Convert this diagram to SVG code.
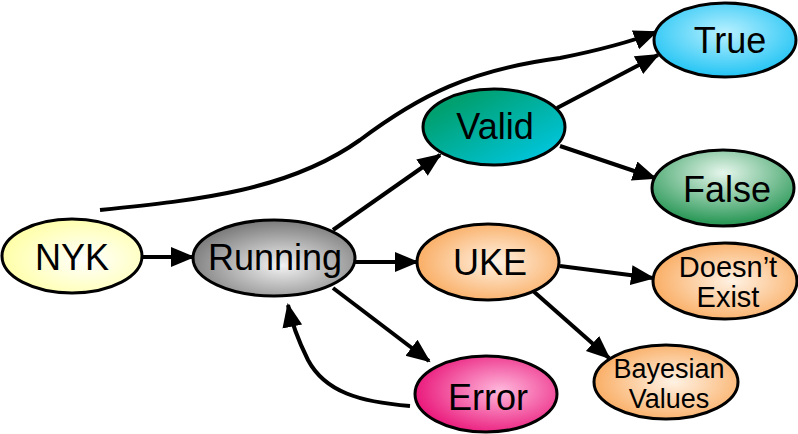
<svg xmlns="http://www.w3.org/2000/svg" width="798" height="434" viewBox="0 0 798 434">
<style>
.n{stroke:#000;stroke-width:3}
.t{font-family:"Liberation Sans",Arial,sans-serif;font-size:36px;fill:#000;text-anchor:middle}
.s{font-size:29px}
.b{font-size:27px}
.c{fill:none;stroke:#000;stroke-width:4;marker-end:url(#ah)}
</style>
<defs>
<marker id="ah" markerUnits="userSpaceOnUse" markerWidth="26" markerHeight="22" refX="22" refY="10" orient="auto"><path d="M0,0 L24,10 L0,20 Z" fill="#000"/></marker>
<radialGradient id="gY" cx="0.6" cy="0.55" r="0.6"><stop offset="0" stop-color="#ffffff"/><stop offset="1" stop-color="#ffffa8"/></radialGradient>
<radialGradient id="gG" cx="0.55" cy="0.6" r="0.6"><stop offset="0" stop-color="#f2f2f2"/><stop offset="1" stop-color="#7a7a7a"/></radialGradient>
<linearGradient id="gV" x1="0" y1="0" x2="1" y2="1"><stop offset="0.2" stop-color="#00a070"/><stop offset="1" stop-color="#00ccf0"/></linearGradient>
<radialGradient id="gT" cx="0.5" cy="0.4" r="0.6"><stop offset="0" stop-color="#b8f0ff"/><stop offset="1" stop-color="#22c4f4"/></radialGradient>
<radialGradient id="gF" cx="0.5" cy="0.3" r="0.65"><stop offset="0" stop-color="#e6f6ec"/><stop offset="1" stop-color="#2e9a5a"/></radialGradient>
<radialGradient id="gO" cx="0.55" cy="0.5" r="0.6"><stop offset="0" stop-color="#fff2e4"/><stop offset="1" stop-color="#f9a85a"/></radialGradient>
<radialGradient id="gE" cx="0.6" cy="0.45" r="0.6"><stop offset="0" stop-color="#ffb8dc"/><stop offset="1" stop-color="#ea1a7c"/></radialGradient>
</defs>
<g id="connectors">
<path class="c" d="M143,257 L193,257"/>
<path class="c" d="M333,230 L440,155"/>
<path class="c" d="M355,262 L417,262"/>
<path class="c" d="M333,288 L429,361"/>
<path class="c" d="M557,108 L658,55"/>
<path class="c" d="M560,146 L655,178"/>
<path class="c" d="M560,266 L653,278"/>
<path class="c" d="M532,290 L609,358"/>
<path class="c" d="M410,406 C360,402 325,392 308,360 C298,340 292,325 288,305"/>
<path class="c" d="M100,210 C200,200 290,190 360,140 C420,95 470,70 560,58 C600,50 630,42 656,32"/>
</g>
<g id="nyk"><ellipse class="n" cx="72" cy="256" rx="70" ry="37" fill="url(#gY)"/><text class="t" x="72" y="270">NYK</text></g>
<g id="running"><ellipse class="n" cx="274" cy="258" rx="81" ry="38" fill="url(#gG)"/><text class="t" x="275" y="270">Running</text></g>
<g id="valid"><ellipse class="n" cx="494" cy="127" rx="71" ry="38" fill="url(#gV)"/><text class="t" x="495" y="139">Valid</text></g>
<g id="true"><ellipse class="n" cx="725" cy="40" rx="71" ry="37" fill="url(#gT)"/><text class="t" x="730" y="53">True</text></g>
<g id="false"><ellipse class="n" cx="723" cy="188" rx="71" ry="38" fill="url(#gF)"/><text class="t" x="727" y="202">False</text></g>
<g id="uke"><ellipse class="n" cx="488" cy="262" rx="71" ry="38" fill="url(#gO)"/><text class="t" x="490" y="275">UKE</text></g>
<g id="doesnt-exist"><ellipse class="n" cx="725" cy="281" rx="72" ry="38" fill="url(#gO)"/><text class="t s" x="728" y="277">Doesn’t</text><text class="t s" x="728" y="307">Exist</text></g>
<g id="bayesian-values"><ellipse class="n" cx="666" cy="382" rx="72" ry="37" fill="url(#gO)"/><text class="t b" x="669" y="378">Bayesian</text><text class="t b" x="669" y="408">Values</text></g>
<g id="error"><ellipse class="n" cx="486" cy="394" rx="71" ry="38" fill="url(#gE)"/><text class="t" x="488" y="410">Error</text></g>
</svg>
